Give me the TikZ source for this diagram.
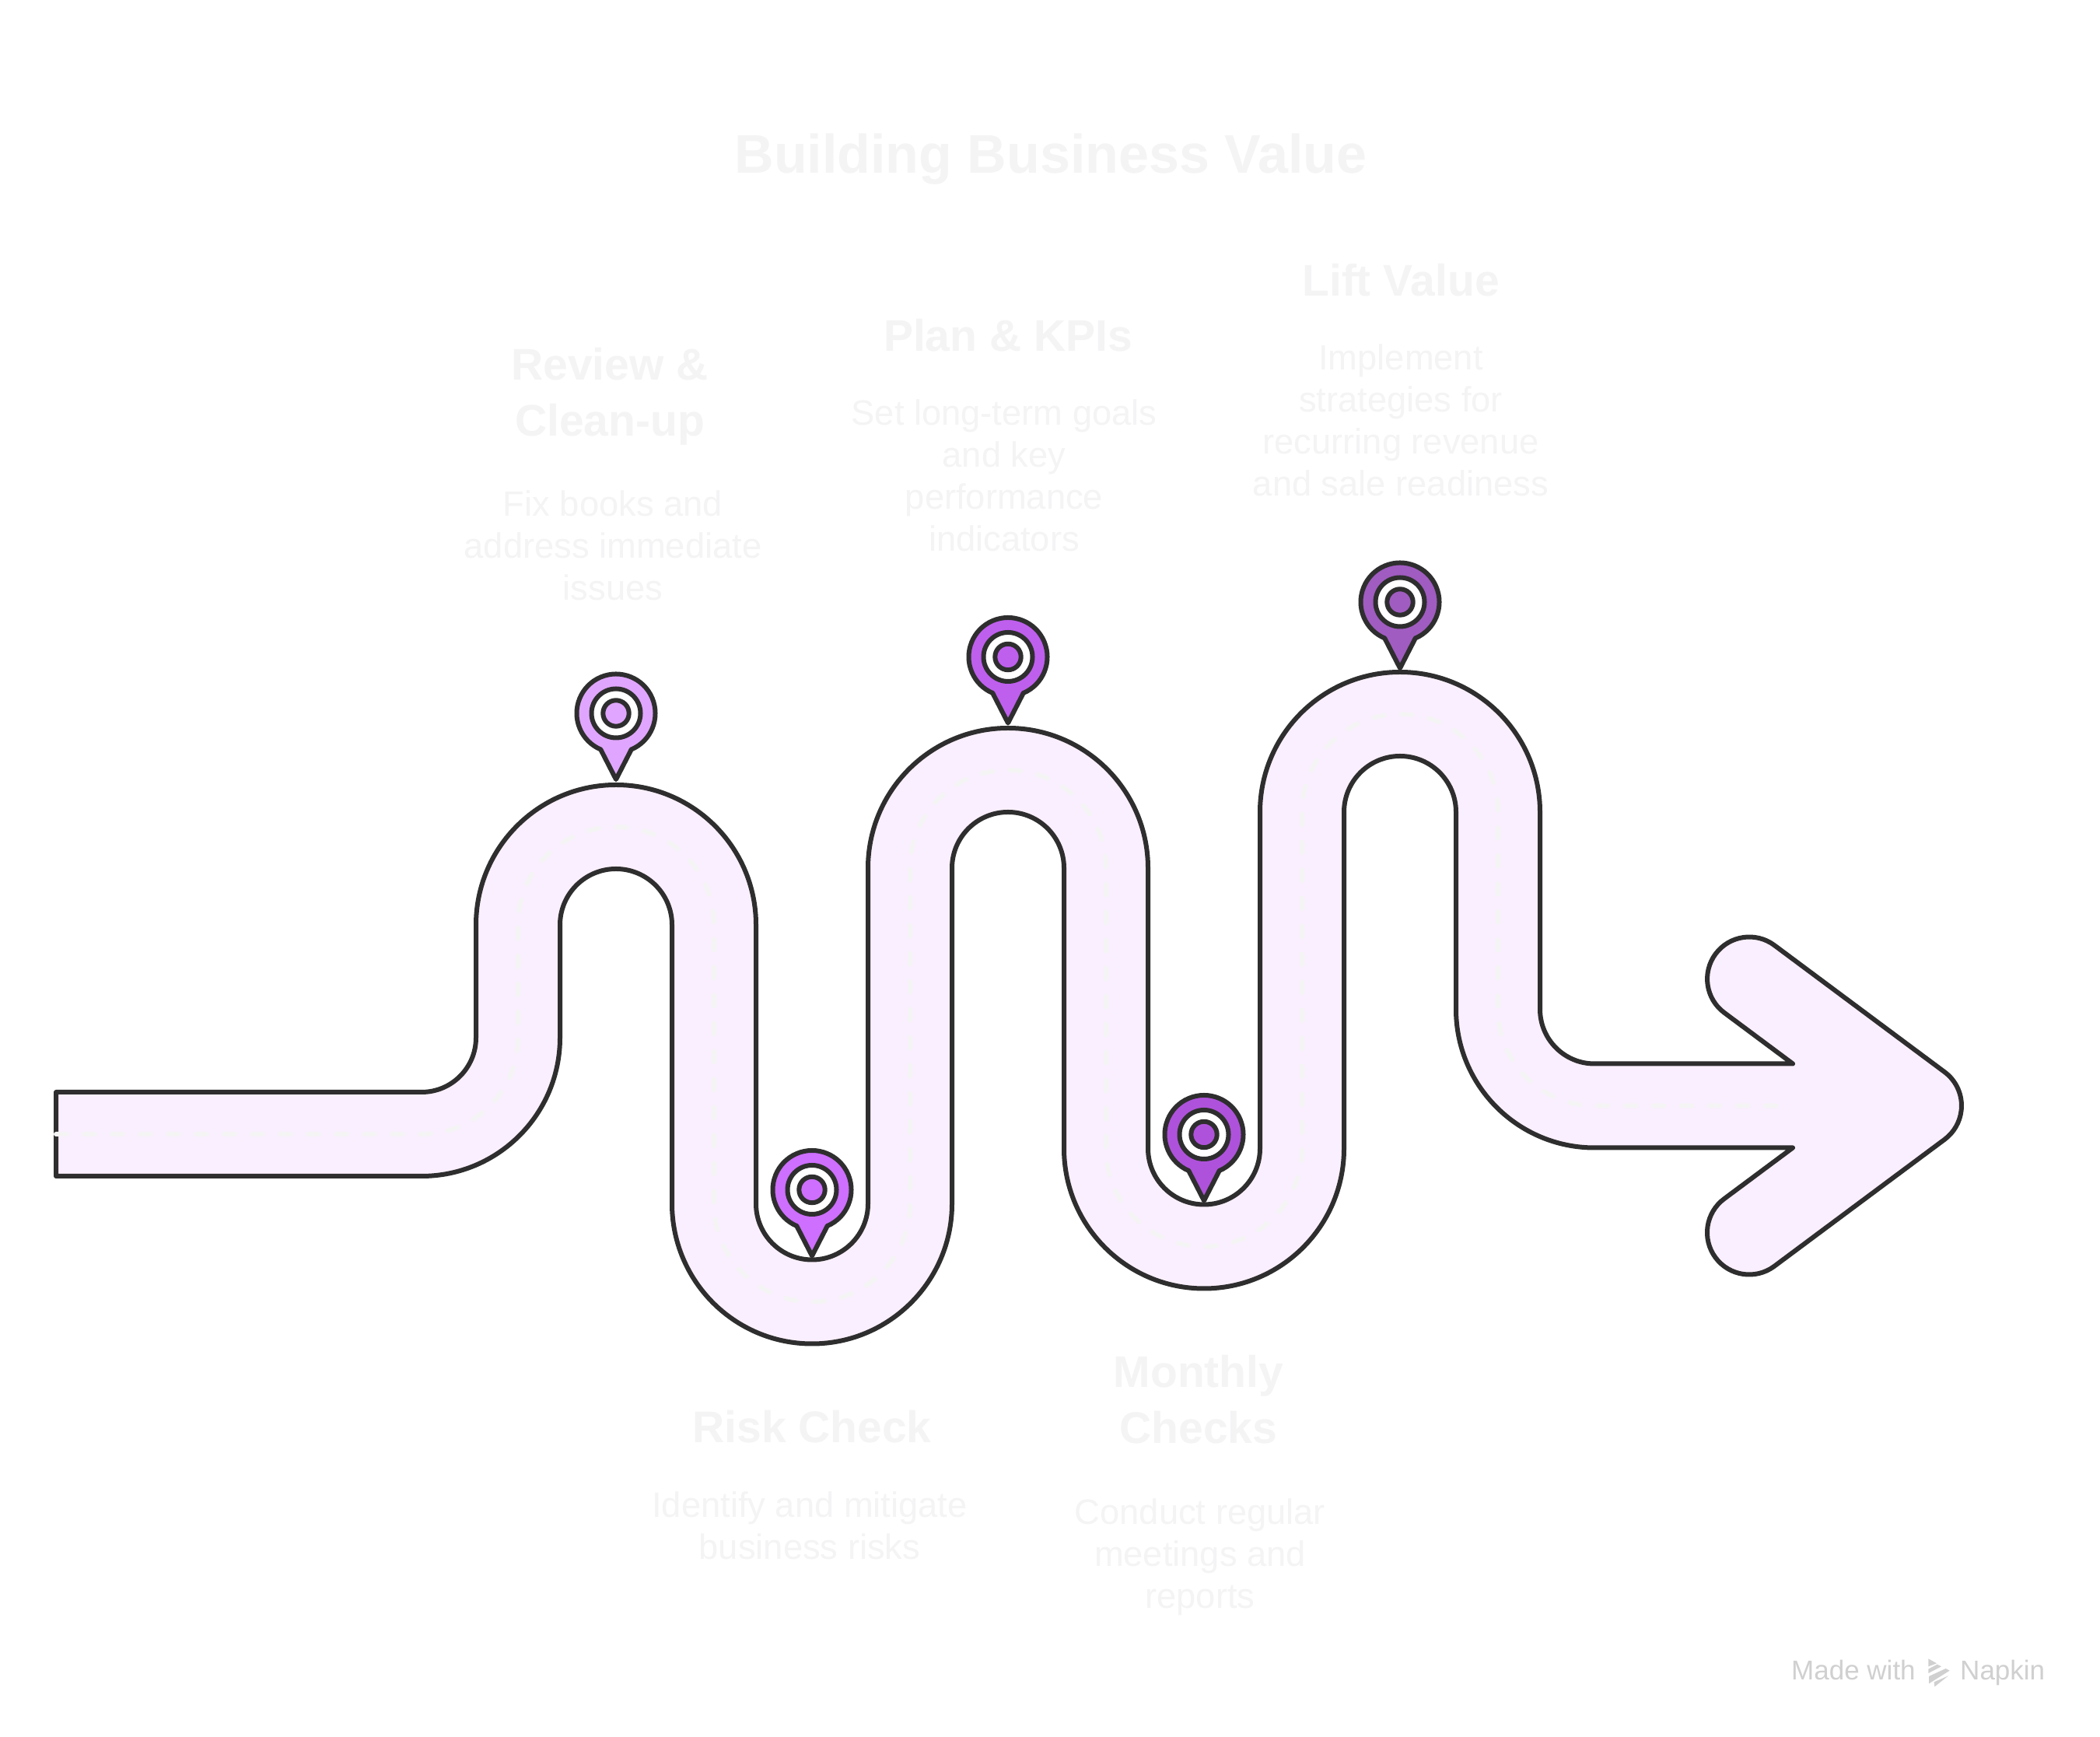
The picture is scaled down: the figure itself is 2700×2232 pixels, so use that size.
\documentclass[tikz,border=0pt]{standalone}
\usepackage{fontspec}
\setmainfont{Liberation Sans}
\definecolor{ink}{HTML}{2E2E2E}
\definecolor{road}{HTML}{FAEFFE}
\definecolor{faint}{HTML}{F4F4F5}
\definecolor{brandgrey}{HTML}{D0D0D0}
\definecolor{pinA}{HTML}{E0A6FF}
\definecolor{pinB}{HTML}{CE6FFF}
\definecolor{pinC}{HTML}{BF5FEE}
\definecolor{pinD}{HTML}{AF52DB}
\definecolor{pinE}{HTML}{A05CC0}
\tikzset{
  edge/.style={draw=ink,line width=6pt,line join=round},
  titletext/.style={text=faint,font=\bfseries\fontsize{70}{80}\selectfont,inner sep=0pt},
  headtext/.style={text=faint,font=\bfseries\fontsize{57}{72}\selectfont,align=center,inner sep=0pt},
  bodytext/.style={text=faint,font=\fontsize{45.3}{54}\selectfont,align=center,inner sep=0pt},
  marktext/.style={text=brandgrey,font=\fontsize{35}{40}\selectfont,inner sep=0pt}
}
\newcommand{\pinmark}[4]{%
  \draw[edge,fill=#4] (#2,#3) ++(-67:50.5) arc[start angle=-67,end angle=247,radius=50.5] -- (#2,#3-85) -- cycle;
  \draw[edge,fill=white] (#2,#3) circle[radius=31.5];
  \node[circle,edge,fill=#4,minimum size=33.4pt,inner sep=0pt] (#1) at (#2,#3) {};
}
\begin{document}
\begin{tikzpicture}[x=1pt,y=1pt]
\useasboundingbox (0,0) rectangle (2700,2232);
\fill[white] (0,0) rectangle (2700,2232);
% road outline
\draw[edge,fill=road]
 (72,828) -- (542,828) arc[start angle=270,end angle=360,radius=70]
 -- (612,1043) arc[start angle=180,end angle=0,radius=180]
 -- (972,684.5) arc[start angle=180,end angle=360,radius=72]
 -- (1116,1116) arc[start angle=180,end angle=0,radius=180]
 -- (1476,755.5) arc[start angle=180,end angle=360,radius=72]
 -- (1620,1188) arc[start angle=180,end angle=0,radius=180]
 -- (1980,934.5) arc[start angle=180,end angle=270,radius=70]
 -- (2305,864.5) -- (2216.9,930.1)
 arc[start angle=233.46,end angle=53.46,radius=54]
 -- (2500.1,853.9) arc[start angle=53.46,end angle=-53.46,radius=54]
 -- (2281.1,604.1) arc[start angle=-53.46,end angle=-233.46,radius=54]
 -- (2305,756.5) -- (2050,756.5) arc[start angle=270,end angle=180,radius=178]
 -- (1872,1188) arc[start angle=0,end angle=180,radius=72]
 -- (1728,755.5) arc[start angle=0,end angle=-180,radius=180]
 -- (1368,1116) arc[start angle=0,end angle=180,radius=72]
 -- (1224,684.5) arc[start angle=0,end angle=-180,radius=180]
 -- (864,1043) arc[start angle=0,end angle=180,radius=72]
 -- (720,898) arc[start angle=0,end angle=-90,radius=178]
 -- (72,720) -- cycle;
% faint centre dashes
\draw[faint,line width=6pt,line cap=round,dash pattern=on 14pt off 22pt]
 (72,774) -- (542,774) arc[start angle=270,end angle=360,radius=124]
 -- (666,1043) arc[start angle=180,end angle=0,radius=126]
 -- (918,684.5) arc[start angle=180,end angle=360,radius=126]
 -- (1170,1116) arc[start angle=180,end angle=0,radius=126]
 -- (1422,755.5) arc[start angle=180,end angle=360,radius=126]
 -- (1674,1188) arc[start angle=180,end angle=0,radius=126]
 -- (1926,934.5) arc[start angle=180,end angle=270,radius=124]
 -- (2287,810.5);
% pins
\pinmark{pinone}{792}{1315}{pinA}
\pinmark{pintwo}{1044}{702.5}{pinB}
\pinmark{pinthree}{1296}{1387.5}{pinC}
\pinmark{pinfour}{1548}{773.5}{pinD}
\pinmark{pinfive}{1800}{1458}{pinE}
% texts
\node[titletext] (title) at (1351,2027) {Building Business Value};
\node[headtext] (revh) at (784,1722) {Review \&\\Clean-up};
\node[bodytext] (revb) at (788,1531) {Fix books and\\address immediate\\issues};
\node[headtext] (planh) at (1296,1801) {Plan \& KPIs};
\node[bodytext] (planb) at (1291,1621) {Set long-term goals\\and key\\performance\\indicators};
\node[headtext] (lifth) at (1801,1872) {Lift Value};
\node[bodytext] (liftb) at (1801,1692) {Implement\\strategies for\\recurring revenue\\and sale readiness};
\node[headtext] (riskh) at (1044,398) {Risk Check};
\node[bodytext] (riskb) at (1041,271) {Identify and mitigate\\business risks};
\node[headtext] (monh) at (1541,433) {Monthly\\Checks};
\node[bodytext] (monb) at (1543,230) {Conduct regular\\meetings and\\reports};
\node[marktext,anchor=base west] (made) at (2303,72) {Made with};
\node[marktext,anchor=base west] (napkin) at (2520,72) {Napkin};
\begin{scope}[shift={(2470pt,107pt)},x=0.3333pt,y=-0.3333pt]
  \fill[brandgrey] (28,22) -- (60,40) -- (28,52) -- cycle;
  \fill[brandgrey] (28,62) -- (62,44) -- (78,52) -- (28,78) -- cycle;
  \fill[brandgrey] (30,90) -- (95,60) -- (110,68) -- (30,118) -- cycle;
  \fill[brandgrey] (50,112) -- (105,88) -- (52,130) -- cycle;
\end{scope}
\end{tikzpicture}
\end{document}
